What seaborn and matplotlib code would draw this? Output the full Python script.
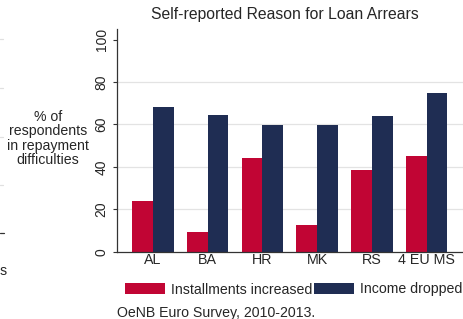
import matplotlib
matplotlib.use("Agg")
import matplotlib.pyplot as plt
import seaborn as sns
import pandas as pd
from matplotlib.lines import Line2D
from matplotlib.patches import Patch

categories = ["AL", "BA", "HR", "MK", "RS", "4 EU MS"]
installments_increased = [23.8, 9.2, 44.2, 12.8, 38.4, 45.3]
income_dropped = [68.0, 64.4, 59.9, 59.6, 63.9, 75.0]
series_names = ["Installments increased", "Income dropped"]
yticks = [0, 20, 40, 60, 80, 100]

colors = ["#C10534", "#1F2D53"]

df = pd.DataFrame({
    "country": categories * 2,
    "value": installments_increased + income_dropped,
    "series": [series_names[0]] * len(categories) + [series_names[1]] * len(categories),
})

sns.set_style("white")
plt.rcParams["font.family"] = ["Liberation Sans", "DejaVu Sans"]

fig = plt.figure(figsize=(4.64, 3.19), dpi=100)
ax = fig.add_axes([117 / 464, 1 - 251.7 / 319, 346 / 464, (251.7 - 29) / 319])

for g in [20, 40, 60, 80]:
    ax.axhline(g, color="#e3e3e3", lw=0.9, zorder=0)

sns.barplot(data=df, x="country", y="value", hue="series", palette=colors,
            width=0.757, ax=ax, saturation=1, legend=False, zorder=2,
            linewidth=0)

ax.set_xlim(-0.658, 5.667)
ax.set_ylim(0, 105)
ax.set_yticks(yticks)
ax.set_yticklabels([str(v) for v in yticks], rotation=90, va="center", fontsize=10)
ax.tick_params(axis="y", length=3, width=0.8, color="#333333", pad=3, left=True)
ax.tick_params(axis="x", length=0, labelsize=10.3, pad=1)
ax.set_xlabel("")
ax.set_ylabel("")
for s in ["top", "right"]:
    ax.spines[s].set_visible(False)
for s in ["left", "bottom"]:
    ax.spines[s].set_color("#333333")
    ax.spines[s].set_linewidth(0.9)

fig.text(285 / 464, 1 - 15 / 319, "Self-reported Reason for Loan Arrears",
         ha="center", va="center", fontsize=11.3)
fig.text(48 / 464, 1 - 138.5 / 319, "% of\nrespondents\nin repayment\ndifficulties",
         ha="center", va="center", fontsize=10.2, linespacing=1.02)

# legend
handles = [Patch(facecolor=c, edgecolor="none") for c in colors]
leg = fig.legend(handles, series_names, loc="center left",
                 bbox_to_anchor=(125 / 464, 1 - 289.5 / 319), ncol=2,
                 frameon=False, fontsize=10.2, handlelength=2.82, handleheight=0.85,
                 handletextpad=0.42, columnspacing=0.12, borderpad=0, borderaxespad=0)

fig.text(116.7 / 464, 1 - 312.7 / 319, "OeNB Euro Survey, 2010-2013.",
         ha="left", va="center", fontsize=10.2)

# fragments of a neighbouring panel at the left edge
for yy in [39, 88, 137, 185]:
    fig.add_artist(Line2D([0, 3 / 464], [1 - yy / 319] * 2, color="#e0e0e0", lw=0.9))
fig.add_artist(Line2D([0, 4 / 464], [1 - 233 / 319] * 2, color="#333333", lw=0.9))
fig.text(0, 1 - 271 / 319, "s", ha="left", va="center", fontsize=10.2)

fig.savefig("out.png", dpi=100)
